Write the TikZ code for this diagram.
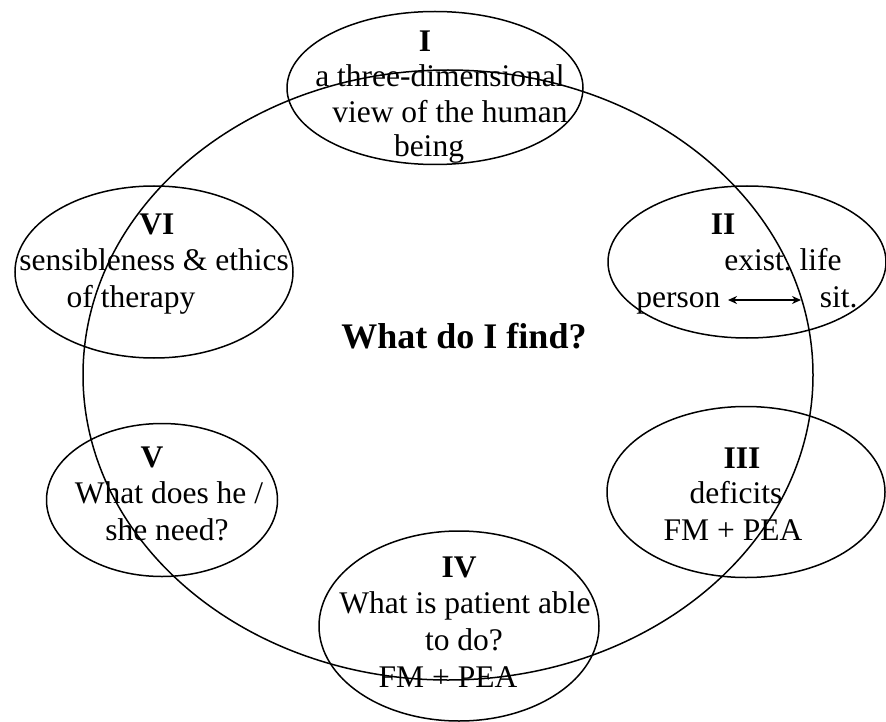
\documentclass[tikz,border=0pt]{standalone}
\usepackage{fontspec}
\setmainfont{Liberation Serif}
\usetikzlibrary{shapes.geometric,arrows.meta}
\frenchspacing

\begin{document}
\begin{tikzpicture}[
    x=1pt, y=-1pt,
    line width=1.5pt,
    ring/.style={
        draw,
        ellipse,
        inner sep=0pt
    },
    txt/.style={
        anchor=base,
        inner sep=0pt,
        font=\fontsize{31.5}{35}\selectfont
    },
    num/.style={txt, font=\fontsize{31.5}{35}\selectfont\bfseries},
    biarrow/.style={{Stealth[length=9pt,width=8pt]}-{Stealth[length=9pt,width=8pt]}, line width=1.6pt}
]
\useasboundingbox (0,0) rectangle (886,722);

% outer circle and the six ellipses
\node[ring, minimum width=730pt, minimum height=610pt] (orbit) at (448,375) {};
\node[ring, minimum width=296pt, minimum height=153pt] (ellI) at (435,88) {};
\node[ring, minimum width=278pt, minimum height=152pt] (ellII) at (747,262) {};
\node[ring, minimum width=278pt, minimum height=171pt] (ellIII) at (746,492) {};
\node[ring, minimum width=280pt, minimum height=190pt] (ellIV) at (459,626) {};
\node[ring, minimum width=231pt, minimum height=153pt] (ellV) at (162,500) {};
\node[ring, minimum width=278pt, minimum height=172pt] (ellVI) at (154,272) {};

% centre
\node[txt, font=\fontsize{36}{40}\selectfont\bfseries] (question) at (464,348) {What do I find?};

% I
\node[num] (numI) at (425,52) {I};
\node[txt] (txtIa) at (440,87) {a three-dimensional};
\node[txt] (txtIb) at (450,123) {view of the human};
\node[txt] (txtIc) at (429,157) {being};

% II
\node[num] (numII) at (723,235) {II};
\node[txt] (txtIIa) at (783,270) {exist. life};
\node[txt, anchor=base east] (person) at (721,307) {person};
\node[txt, anchor=base west] (sit) at (819,307) {sit.};
\draw[biarrow] ([xshift=7pt,yshift=7pt]person.base east) -- ([xshift=-18pt,yshift=7pt]sit.base west);

% III
\node[num] (numIII) at (742,468) {III};
\node[txt] (txtIIIa) at (736,503) {deficits};
\node[txt] (txtIIIb) at (733,540) {FM + PEA};

% IV
\node[num] (numIV) at (459,577) {IV};
\node[txt] (txtIVa) at (465,613) {What is patient able};
\node[txt] (txtIVb) at (464,650) {to do?};
\node[txt] (txtIVc) at (448,687) {FM + PEA};

% V
\node[num] (numV) at (152,467) {V};
\node[txt] (txtVa) at (169,503) {What does he /};
\node[txt] (txtVb) at (167,540) {she need?};

% VI
\node[num] (numVI) at (157,235) {VI};
\node[txt] (txtVIa) at (154,270) {sensibleness \& ethics};
\node[txt] (txtVIb) at (131,307) {of therapy};
\end{tikzpicture}
\end{document}
